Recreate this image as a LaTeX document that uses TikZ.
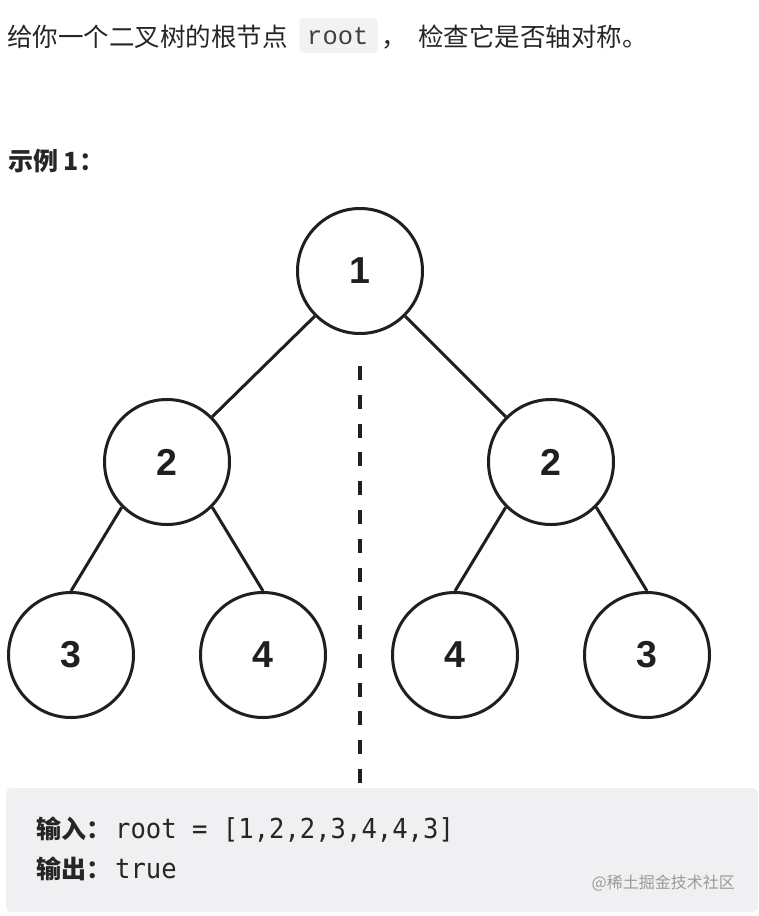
\documentclass[tikz,border=0pt]{standalone}
\usepackage{fontspec}
\newfontfamily\cjk{Noto Sans CJK SC}
\newfontfamily\numfont{Liberation Sans}
\newfontfamily\codefont{Liberation Mono}
\newfontfamily\boxmono[FakeStretch=0.93]{DejaVu Sans Mono}
\definecolor{boxbg}{RGB}{240,240,242}
\definecolor{codebg}{RGB}{242,242,243}
\begin{document}
\begin{tikzpicture}[x=1pt,y=-1pt,
  tn/.style={circle, draw=black!88, fill=white, line width=3pt, minimum size=125pt, inner sep=0pt,
    font=\numfont\bfseries\fontsize{37.5}{38}\selectfont, text=black!88},
  edge/.style={line width=3pt, draw=black!88},
  body/.style={inner sep=0pt, anchor=base west, text=black!85},
  cjktext/.style={body, font=\cjk\fontsize{25.5}{28}\selectfont},
  cjkbold/.style={body, font=\cjk\bfseries\fontsize{25}{28}\selectfont},
  boxtext/.style={body, font=\boxmono\fontsize{27.5}{30}\selectfont}
]
\useasboundingbox (0,0) rectangle (758,916);

% top sentence
\node[cjktext] (t1) at (7,46) {给你一个二叉树的根节点};
\node[fill=codebg, rounded corners=4pt, minimum width=78pt, minimum height=35pt, inner sep=0pt] (codebg) at (338.5,35.5) {};
\node[body, font=\codefont\fontsize{25.5}{28}\selectfont, text=black!75] (code) at (307,44) {root};
\node[cjktext] (comma) at (381,46) {，};
\node[cjktext] (t2) at (418,46) {检查它是否轴对称。};

% example label
\node[cjkbold] (ex) at (8,170) {示例 1：};

% tree
\node[tn] (r) at (360,271) {1};
\node[tn] (l) at (167,462) {2};
\node[tn] (rt) at (551,462) {2};
\node[tn] (ll) at (71,655) {3};
\node[tn] (lr) at (263,655) {4};
\node[tn] (rl) at (455,655) {4};
\node[tn] (rr) at (647,655) {3};

\draw[edge] (r.225) -- (l.45);
\draw[edge] (r.315) -- (rt.135);
\draw[edge] (l.225) -- (ll.north);
\draw[edge] (l.315) -- (lr.north);
\draw[edge] (rt.225) -- (rl.north);
\draw[edge] (rt.315) -- (rr.north);

% symmetry axis
\coordinate (dtop) at (360,366);
\coordinate (dbot) at (360,783);
\draw[line width=4.5pt, draw=black!88, dash pattern=on 14pt off 14.79pt] (dtop) -- (dbot);

% example box
\fill[fill=boxbg, rounded corners=6pt] (6,788) rectangle (758,912);
\node[cjkbold] (in) at (36,838) {输入：};
\node[boxtext] (inv) at (115,838) {root = [1,2,2,3,4,4,3]};
\node[cjkbold] (out) at (36,878) {输出：};
\node[boxtext] (outv) at (115,878) {true};
\node[inner sep=0pt, anchor=base east, font=\cjk\fontsize{16}{18}\selectfont, text=black!40] (wm) at (735,888) {@稀土掘金技术社区};
\end{tikzpicture}
\end{document}
